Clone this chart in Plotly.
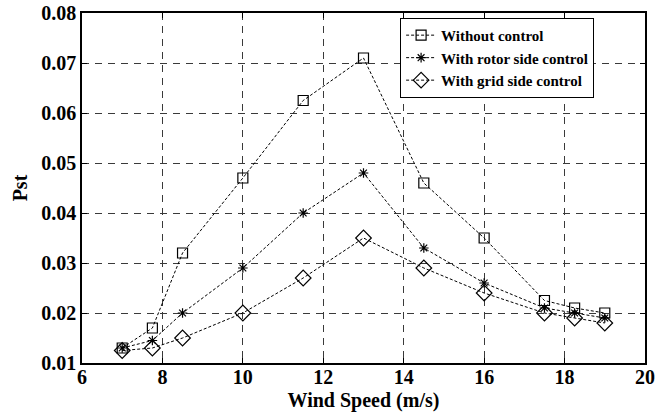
import plotly.graph_objects as go

wind_speed = [7, 7.75, 8.5, 10, 11.5, 13, 14.5, 16, 17.5, 18.25, 19]
without_control = [0.013, 0.017, 0.032, 0.047, 0.0625, 0.071, 0.046, 0.035, 0.0225, 0.021, 0.020]
rotor_side = [0.013, 0.0145, 0.020, 0.029, 0.040, 0.048, 0.033, 0.026, 0.021, 0.020, 0.019]
grid_side = [0.0125, 0.013, 0.015, 0.020, 0.027, 0.035, 0.029, 0.024, 0.020, 0.019, 0.018]

series_names = ["Without control", "With rotor side control", "With grid side control"]
x_ticks = [6, 8, 10, 12, 14, 16, 18, 20]
y_ticks = [0.01, 0.02, 0.03, 0.04, 0.05, 0.06, 0.07, 0.08]

FONT = "Liberation Serif"

fig = go.Figure()
styles = [
    dict(symbol="square-open", size=10),
    dict(symbol="asterisk-open", size=8),
    dict(symbol="diamond-open", size=12),
]
for name, ys, st in zip(series_names, [without_control, rotor_side, grid_side], styles):
    fig.add_trace(go.Scatter(
        x=wind_speed, y=ys, name=name, mode="lines+markers",
        line=dict(color="black", width=1, dash="3px,2px"),
        marker=dict(symbol=st["symbol"], size=st["size"], color="black",
                    line=dict(color="black", width=1.2)),
    ))

axis_common = dict(
    showline=True, linecolor="black", linewidth=1.5, mirror="ticks",
    ticks="inside", ticklen=5, tickcolor="black", tickwidth=1,
    showgrid=True, gridcolor="#3a3a3a", gridwidth=1, griddash="7px,6px",
    zeroline=False, automargin=False,
    tickfont=dict(family=FONT, size=20, color="black", weight="bold"),
)

fig.update_xaxes(range=[6, 20], tickvals=x_ticks, ticktext=[str(v) for v in x_ticks],
                 ticklabelstandoff=-5,
                 title=dict(text="Wind Speed (m/s)", standoff=6,
                            font=dict(family=FONT, size=20, color="black", weight="bold")),
                 **axis_common)
fig.update_yaxes(range=[0.01, 0.08], tickvals=y_ticks, ticktext=[f"{v:.2f}" for v in y_ticks],
                 title=dict(text="Pst", standoff=8,
                            font=dict(family=FONT, size=20, color="black", weight="bold")),
                 **axis_common)

fig.update_layout(
    width=657, height=413,
    margin=dict(l=82, r=12, t=13, b=50),
    paper_bgcolor="white", plot_bgcolor="white",
    font=dict(family=FONT, color="black", weight="bold"),
    showlegend=True,
    legend=dict(x=0.565, y=0.986, xanchor="left", yanchor="top",
                bgcolor="white", bordercolor="black", borderwidth=1,
                font=dict(family=FONT, size=15, color="black", weight="bold"),
                tracegroupgap=0, itemwidth=30),
)

fig.write_html("out.html", config={"displayModeBar": False},
               post_script="document.body.style.margin='0px';")
